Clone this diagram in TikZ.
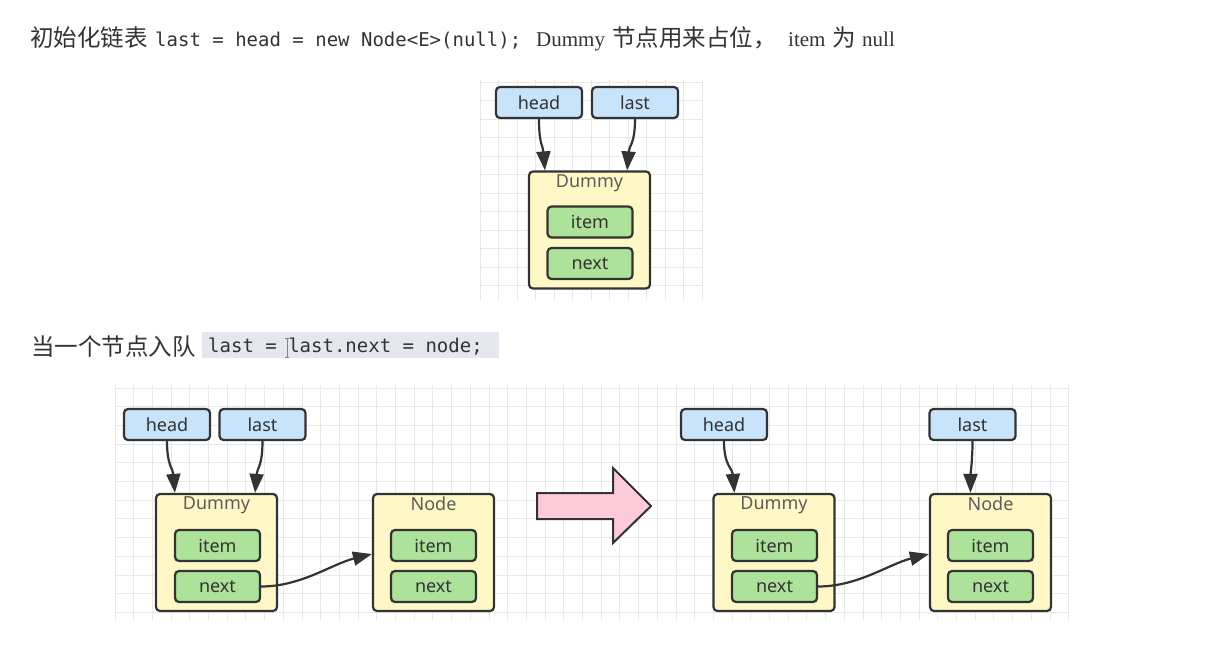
\documentclass[tikz,border=0pt]{standalone}
\usepackage{fontspec}
\setmainfont{Liberation Serif}
\setsansfont{Noto Sans}
\setmonofont{DejaVu Sans Mono}
\newfontfamily\cjk{Noto Sans CJK SC}
\usetikzlibrary{arrows.meta,calc}
\definecolor{ptrfill}{HTML}{C8E4FB}
\definecolor{boxfill}{HTML}{FFF8C6}
\definecolor{fieldfill}{HTML}{ACE29A}
\definecolor{edge}{HTML}{333333}
\definecolor{txt}{HTML}{333333}
\definecolor{gridc}{HTML}{E8E8E8}
\definecolor{codebg}{HTML}{E4E8EE}
\definecolor{pinkfill}{HTML}{FCCAD8}
\tikzset{
  ptr/.style={draw=edge, line width=2.2pt, rounded corners=4pt, fill=ptrfill,
    minimum width=86pt, minimum height=31pt, inner sep=0pt,
    font=\sffamily\fontsize{18}{18}\selectfont, text=txt},
  nbox/.style={draw=edge, line width=2.2pt, rounded corners=4pt, fill=boxfill,
    minimum width=121pt, minimum height=117pt, inner sep=0pt},
  boxlabel/.style={font=\sffamily\fontsize{18}{18}\selectfont, text=txt!80, inner sep=0pt},
  field/.style={draw=edge, line width=2.2pt, rounded corners=4pt, fill=fieldfill,
    minimum width=85pt, minimum height=31pt, inner sep=0pt,
    font=\sffamily\fontsize{18}{18}\selectfont, text=txt},
  link/.style={draw=edge, line width=2.2pt, -{Triangle[length=19pt,width=14pt]}},
  gridline/.style={draw=gridc, line width=0.9pt},
  cn/.style={font=\cjk\fontsize{23.5}{23.5}\selectfont, text=txt, inner sep=0pt, anchor=base west},
  mono/.style={font=\ttfamily\fontsize{19}{19}\selectfont, text=txt, inner sep=0pt, anchor=base west},
  serif/.style={font=\rmfamily\fontsize{21}{21}\selectfont, text=txt, inner sep=0pt, anchor=base west},
}
\begin{document}
\begin{tikzpicture}[x=1pt,y=-1pt]
\useasboundingbox[fill=white] (0,0) rectangle (1214,645);
% grids
\foreach \i in {0,...,12} \draw[gridline] ({480+18.5*\i},80) -- ({480+18.5*\i},300);
\foreach \i in {0,...,11} \draw[gridline] (480,{82+18.5*\i}) -- (702,{82+18.5*\i});
\foreach \i in {0,...,51} \draw[gridline] ({115+18.7*\i},385) -- ({115+18.7*\i},620);
\foreach \i in {0,...,12} \draw[gridline] (115,{388+18.7*\i}) -- (1069,{388+18.7*\i});

% line 1
\node[cn] (t1a) at (30,46) {初始化链表};
\node[mono] (t1b) at (155,46) {last = head = new Node<E>(null);};
\node[serif] (t1c) at (536,46) {Dummy};
\node[cn] (t1d) at (612,46) {节点用来占位，};
\node[serif] (t1e) at (788,46) {item};
\node[cn] (t1f) at (832,46) {为};
\node[serif] (t1g) at (862,46) {null};

% line 2
\fill[codebg] (202,332) rectangle (499,358);
\node[cn] (t2a) at (31,355) {当一个节点入队};
\node[mono] (t2b) at (208,352) {last = last.next = node;};
\draw[gray, line width=0.9pt] (285,338) -- (289,338) (287,338) -- (287,357) (285,357) -- (289,357);

% top diagram
\node[ptr] (hd0) at (539,102.5) {head};
\node[ptr] (ls0) at (635,102.5) {last};
\node[nbox] (dm0) at (589.5,230) {};
\node[boxlabel, anchor=north] (dm0l) at ([yshift=-4pt]dm0.north) {Dummy};
\node[field] (it0) at (590,222) {item};
\node[field] (nx0) at (590,263.5) {next};
\draw[link] (hd0.south) .. controls +(0,25) and +(-2,-25) .. ([xshift=17pt]dm0.north west);
\draw[link] (ls0.south) .. controls +(0,25) and +(2,-25) .. ([xshift=-24pt]dm0.north east);

% bottom left
\node[ptr] (hd1) at (167,424.5) {head};
\node[ptr] (ls1) at (262.5,424.5) {last};
\node[nbox] (dm1) at (216.5,552.5) {};
\node[boxlabel, anchor=north] (dm1l) at ([yshift=-4pt]dm1.north) {Dummy};
\node[field] (it1) at (217.5,545.5) {item};
\node[field] (nx1) at (217.5,586.5) {next};
\node[nbox] (nd1) at (433.5,552.5) {};
\node[boxlabel, anchor=north] (nd1l) at ([yshift=-4pt]nd1.north) {Node};
\node[field] (it1b) at (433.5,545.5) {item};
\node[field] (nx1b) at (433.5,586.5) {next};
\draw[link] (hd1.south) .. controls +(0,25) and +(-2,-25) .. ([xshift=20pt]dm1.north west);
\draw[link] (ls1.south) .. controls +(0,25) and +(2,-25) .. ([xshift=-23pt]dm1.north east);
\draw[link] (nx1.east) .. controls +(40,0) and +(-40,10) .. ([yshift=-1.5pt]nd1.west);

% big arrow
\draw[draw=edge, line width=2pt, fill=pinkfill, line join=miter]
  (537,493) -- (613,493) -- (613,468) -- (651,506) -- (613,543) -- (613,519) -- (537,519) -- cycle;

% bottom right
\node[ptr] (hd2) at (724,424.5) {head};
\node[ptr] (ls2) at (972.5,424.5) {last};
\node[nbox] (dm2) at (774,552.5) {};
\node[boxlabel, anchor=north] (dm2l) at ([yshift=-4pt]dm2.north) {Dummy};
\node[field] (it2) at (774.5,545.5) {item};
\node[field] (nx2) at (774.5,586.5) {next};
\node[nbox] (nd2) at (990.5,552.5) {};
\node[boxlabel, anchor=north] (nd2l) at ([yshift=-4pt]nd2.north) {Node};
\node[field] (it2b) at (990.5,545.5) {item};
\node[field] (nx2b) at (990.5,586.5) {next};
\draw[link] (hd2.south) .. controls +(0,25) and +(-2,-25) .. ([xshift=22pt]dm2.north west);
\draw[link] (ls2.south) .. controls +(0,20) and +(0,-20) .. ([xshift=-20pt]nd2.north);
\draw[link] (nx2.east) .. controls +(40,0) and +(-40,10) .. ([yshift=-1.5pt]nd2.west);
\end{tikzpicture}
\end{document}
